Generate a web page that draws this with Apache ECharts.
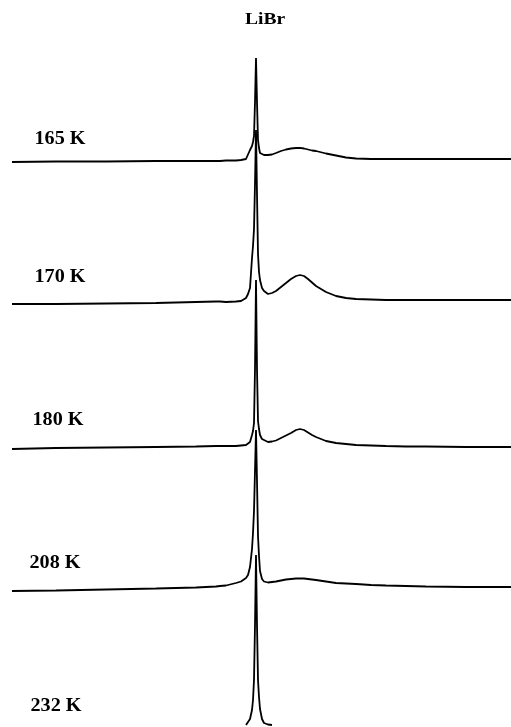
<!DOCTYPE html>
<html>
<head>
<meta charset="utf-8">
<script src="https://cdn.jsdelivr.net/npm/echarts@6/dist/echarts.min.js"></script>
<style>
html,body{margin:0;padding:0;background:#fff;}
#chart{width:511px;height:727px;}
</style>
</head>
<body>
<div id="chart"></div>
<script>
// Shared frequency axis (arbitrary units, peak at 0)
const shift = [-244,-200,-150,-100,-60,-40,-38,-36,-30,-20,-15,-10,-8,-6,-4,-3,-2,-1,0,1,2,3,4,6,8,12,16,20,25,30,35,40,44,48,52,56,60,70,80,90,100,115,130,150,170,210,255];

const temps = ['165 K','170 K','180 K','208 K','232 K'];
// vertical stacking offsets for each spectrum
const offsets = [565, 423, 278, 136, 2];

const spec165 = [0,0.5,0.5,1,1,1,1,1,1.5,1.5,2,3,5,12,16,20,26,60,104,60,22,14,9,8,7,7,7.5,9,11,12.5,13.5,14,14.2,13.5,12.5,11.5,11,8.5,6.5,4.5,3.5,3,3,3,3,3,3];
const spec170 = [0,0,0.5,1,2,2.5,3.5,2.5,2,2.5,3,6,10,16,46,58,75,120,174,110,50,32,24,16,13,10,11,13,17,21,25,28,29,28,25,21.5,18,12,8,6,5,4.5,4,4,4,4,4];
const spec180 = [0,1,1.5,2,2.5,3,3,3,3,3,3.5,4,5,7,14,18,26,80,169,80,28,20,14,10,8,7,7.5,8.5,11,13.5,16,19,20,19,16.5,14,12,8,6,5,4,3.5,3,2.5,2.5,2,2];
const spec208 = [0,0.5,1.5,2.5,3.5,4.5,4.5,5,5.5,8,9.5,13,16,24,42,58,80,120,161,110,55,35,20,12,9.5,8.5,9,9.5,10.5,11.5,12,12.5,12.7,12.5,12,11.5,11,9.5,8,7.5,7,6,5.5,5,4.5,4,4];
const spec232 = ['-','-','-','-','-','-','-','-','-','-','-',0,2,6,15,25,45,100,170,100,45,28,16,6,2,0.5,0,'-','-','-','-','-','-','-','-','-','-','-','-','-','-','-','-','-','-','-','-'];

const spectra = [spec165, spec170, spec180, spec208, spec232];

const labelPos = [[60,139],[60,277],[58,420],[55,563],[56,706]];

const chart = echarts.init(document.getElementById('chart'), null, {renderer:'canvas'});

const series = spectra.map((vals, k) => ({
  type: 'line',
  name: temps[k],
  showSymbol: false,
  connectNulls: false,
  lineStyle: {color:'#000', width:1.8},
  data: shift.map((x, i) => [x, vals[i] === '-' ? '-' : vals[i] + offsets[k]])
}));

const serif = 'Liberation Serif';
const graphics = temps.map((t, k) => ({
  type: 'text',
  x: labelPos[k][0], y: labelPos[k][1],
  scaleX: 1.12,
  style: {text: t, fontSize: 18, fontWeight: 'bold', fontFamily: serif, fill: '#000', align: 'center', verticalAlign: 'middle'}
}));
graphics.push({
  type: 'text', x: 265, y: 20, scaleX: 1.15,
  style: {text: 'LiBr', fontSize: 17, fontWeight: 'bold', fontFamily: serif, fill: '#000', align: 'center', verticalAlign: 'middle'}
});

chart.setOption({
  animation: false,
  backgroundColor: '#fff',
  grid: {left: 12, right: 0, top: 0, bottom: 0},
  xAxis: {type: 'value', min: -244, max: 255, show: false},
  yAxis: {type: 'value', min: 0, max: 727, show: false},
  graphic: graphics,
  series: series
});
</script>
</body>
</html>
